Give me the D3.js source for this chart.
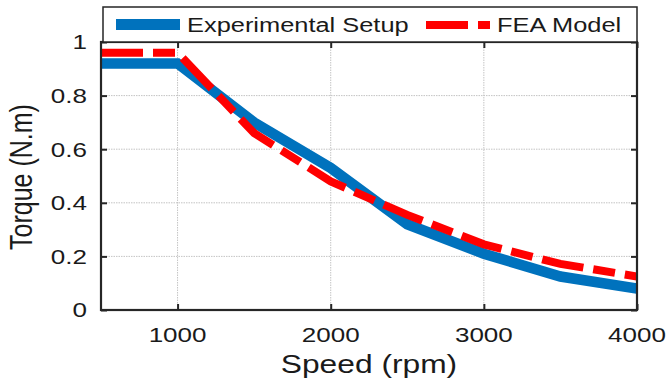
<!DOCTYPE html>
<html>
<head>
<meta charset="utf-8">
<script src="https://cdn.jsdelivr.net/npm/d3@7"></script>
<style>
  html, body { margin: 0; padding: 0; background: #fff; }
  svg { display: block; }
  text { font-family: "Liberation Sans", Arial, Helvetica, sans-serif; fill: #1a1a1a; }
</style>
</head>
<body>
<svg id="chart" width="669" height="381"></svg>
<script>
// ---- data ----
const speeds = [500, 1000, 1500, 2000, 2500, 3000, 3500, 4000];
const experimental = [0.92, 0.92, 0.70, 0.53, 0.32, 0.21, 0.125, 0.08];
const feaModel = [0.96, 0.96, 0.66, 0.48, 0.355, 0.245, 0.172, 0.125];
const xTicks = [1000, 2000, 3000, 4000];
const yTicks = [0, 0.2, 0.4, 0.6, 0.8, 1];
const yTickLabels = ["0", "0.2", "0.4", "0.6", "0.8", "1"];
const seriesNames = ["Experimental Setup", "FEA Model"];
const xLabel = "Speed (rpm)";
const yLabel = "Torque (N.m)";

(function () {
// ---- layout ----
const SX = 1.27; // horizontal text stretch seen in the reference
const pL = 101, pR = 637, pT = 42, pB = 310;
const svg = d3.select("#chart");

const x = d3.scaleLinear().domain([500, 4000]).range([pL, pR]);
const y = d3.scaleLinear().domain([0, 1]).range([pB, pT]);

// grid
const grid = svg.append("g");
grid.selectAll("line.gx").data(xTicks.filter(t => t < 4000)).enter().append("line")
  .attr("x1", d => x(d)).attr("x2", d => x(d)).attr("y1", pT).attr("y2", pB)
  .attr("stroke", "#c4c4c4").attr("stroke-width", 1).attr("stroke-dasharray", "1.5,1");
grid.selectAll("line.gy").data(yTicks.filter(t => t > 0 && t < 1)).enter().append("line")
  .attr("x1", pL).attr("x2", pR).attr("y1", d => y(d)).attr("y2", d => y(d))
  .attr("stroke", "#c4c4c4").attr("stroke-width", 1).attr("stroke-dasharray", "1.5,1");

// clip
svg.append("clipPath").attr("id", "plotclip").append("rect")
  .attr("x", pL).attr("y", pT).attr("width", pR - pL).attr("height", pB - pT);

const line = d3.line().x(d => x(d[0])).y(d => y(d[1]));
const plot = svg.append("g").attr("clip-path", "url(#plotclip)");
plot.append("path").datum(speeds.map((s, i) => [s, experimental[i]]))
  .attr("d", line).attr("fill", "none").attr("stroke", "#0072BD")
  .attr("stroke-width", 10.5).attr("stroke-linejoin", "miter");
plot.append("path").datum(speeds.map((s, i) => [s, feaModel[i]]))
  .attr("d", line).attr("fill", "none").attr("stroke", "#FF0000")
  .attr("stroke-width", 8).attr("stroke-dasharray", "42 10 22 10").attr("stroke-linejoin", "miter");

// axes (box with inward ticks)
const axisColor = "#262626";
const tickLen = 6;
const axG = svg.append("g");
const xAxisB = d3.axisBottom(x).tickValues(xTicks).tickSize(-tickLen).tickFormat("");
const xAxisT = d3.axisTop(x).tickValues(xTicks).tickSize(-tickLen).tickFormat("");
const yAxisL = d3.axisLeft(y).tickValues(yTicks).tickSize(-tickLen).tickFormat("");
const yAxisR = d3.axisRight(y).tickValues(yTicks).tickSize(-tickLen).tickFormat("");
[[xAxisB, `translate(0,${pB})`], [xAxisT, `translate(0,${pT})`],
 [yAxisL, `translate(${pL},0)`], [yAxisR, `translate(${pR},0)`]].forEach(([ax, tr]) => {
  const g = axG.append("g").attr("transform", tr).call(ax);
  g.select(".domain").remove();
  g.selectAll(".tick line").attr("stroke", axisColor).attr("stroke-width", 2);
});
axG.append("rect").attr("x", pL).attr("y", pT).attr("width", pR - pL).attr("height", pB - pT)
  .attr("fill", "none").attr("stroke", axisColor).attr("stroke-width", 2.2);

// tick labels
svg.append("g").selectAll("text").data(xTicks).enter().append("text")
  .attr("transform", d => `translate(${x(d)},342) scale(${SX},1)`)
  .attr("text-anchor", "middle").attr("font-size", 20.5).text(d => d);
svg.append("g").selectAll("text").data(yTicks).enter().append("text")
  .attr("transform", d => `translate(87,${y(d) + 7.3}) scale(${SX},1)`)
  .attr("text-anchor", "end").attr("font-size", 20.5).text((d, i) => yTickLabels[i]);

// axis titles
svg.append("text").attr("transform", `translate(${(pL + pR) / 2},373) scale(${SX},1)`)
  .attr("text-anchor", "middle").attr("font-size", 25).text(xLabel);
svg.append("text").attr("transform", `translate(31.5,${(pT + pB) / 2 + 1}) scale(${SX},1) rotate(-90)`)
  .attr("text-anchor", "middle").attr("font-size", 25).text(yLabel);

// legend
const lg = svg.append("g");
lg.append("rect").attr("x", 103).attr("y", 7).attr("width", pR - 103).attr("height", pT - 7)
  .attr("fill", "#fff").attr("stroke", axisColor).attr("stroke-width", 1.5);
lg.append("line").attr("x1", 116).attr("x2", 180).attr("y1", 24.5).attr("y2", 24.5)
  .attr("stroke", "#0072BD").attr("stroke-width", 11);
lg.append("text").attr("transform", `translate(187,32) scale(${SX},1)`).attr("font-size", 20).text(seriesNames[0]);
lg.append("line").attr("x1", 426).attr("x2", 490).attr("y1", 25).attr("y2", 25)
  .attr("stroke", "#FF0000").attr("stroke-width", 8).attr("stroke-dasharray", "42 10 22 10");
lg.append("text").attr("transform", `translate(497,32) scale(${SX},1)`).attr("font-size", 20).text(seriesNames[1]);
})();
</script>
</body>
</html>
